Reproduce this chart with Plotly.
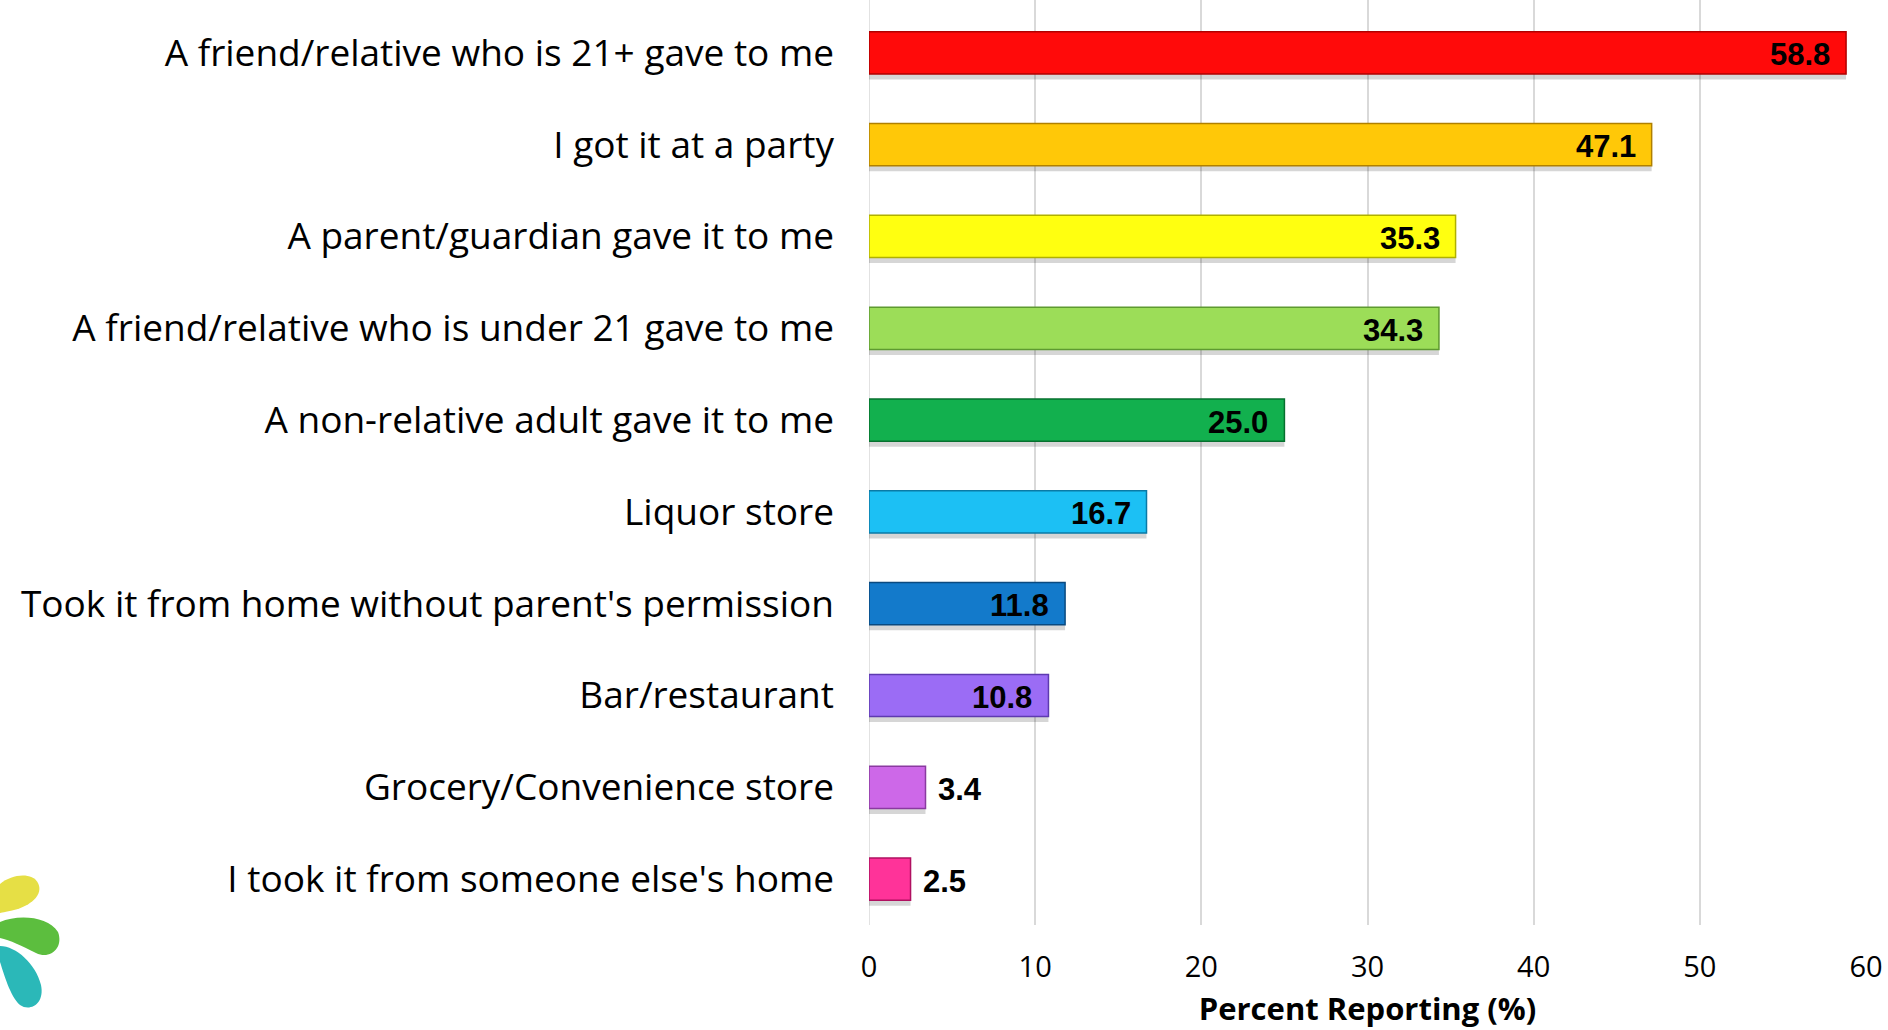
import plotly.graph_objects as go

# Sources of alcohol, percent of respondents reporting each
categories = [
    "A friend/relative who is 21+ gave to me",
    "I got it at a party",
    "A parent/guardian gave it to me",
    "A friend/relative who is under 21 gave to me",
    "A non-relative adult gave it to me",
    "Liquor store",
    "Took it from home without parent's permission",
    "Bar/restaurant",
    "Grocery/Convenience store",
    "I took it from someone else's home",
]
values = [58.8, 47.1, 35.3, 34.3, 25.0, 16.7, 11.8, 10.8, 3.4, 2.5]
bar_colors = ["#FF0A0A", "#FFC808", "#FFFF10", "#9CDD58", "#12B04E",
              "#1CC0F4", "#137ACB", "#9B6CF5", "#CD68E8", "#FF3399"]
edge_colors = ["#B00000", "#B08000", "#B0B000", "#5E9A30", "#06702E",
               "#0A7AA6", "#0A4A80", "#5E3AB0", "#8A3AA0", "#B01060"]
x_ticks = [0, 10, 20, 30, 40, 50, 60]
x_title = "Percent Reporting (%)"

W, H = 1888, 1030
L, R, T, B = 869, 22, 0, 105
BAR_W = 0.46

fig = go.Figure()
# soft drop shadow sitting just below each bar
fig.add_trace(go.Bar(
    x=values, y=categories, orientation="h", width=BAR_W, offset=-BAR_W / 2 + 0.06,
    marker=dict(color="rgba(0,0,0,0.16)", line=dict(width=0)),
    hoverinfo="skip",
))
fig.add_trace(go.Bar(
    x=values, y=categories, orientation="h", width=BAR_W, offset=-BAR_W / 2,
    marker=dict(color=bar_colors, line=dict(color=edge_colors, width=1.5)),
    hoverinfo="x+y",
))

# value labels: inside the bar end when there is room, otherwise just past it
for cat, v in zip(categories, values):
    inside = v >= 8
    fig.add_annotation(
        x=v, y=cat, xref="x", yref="y", text=f"<b>{v:.1f}</b>",
        showarrow=False, xanchor="right" if inside else "left",
        xshift=-14 if inside else 10, yshift=-2,
        font=dict(family="Liberation Sans Narrow, Liberation Sans, Arial", size=31, color="#000000"),
    )

# small petal logo in the lower-left corner
pw = W - L - R
ph = H - T - B


def px(x):
    return (x - L) / pw


def py(y):
    return (H - B - y) / ph


def petal(points):
    (x0, y0), rest = points[0], points[1:]
    d = f"M {px(x0)},{py(y0)} "
    for i in range(0, len(rest), 3):
        (a, b), (c, e), (f, g) = rest[i:i + 3]
        d += f"C {px(a)},{py(b)} {px(c)},{py(e)} {px(f)},{py(g)} "
    return d + "Z"


petals = [
    ("#E6DF45", [(0, 884), (12, 874), (32, 872), (38, 883), (44, 895), (30, 906), (14, 910), (6, 912), (0, 913), (0, 913)]),
    ("#5CBE3E", [(0, 922), (18, 914), (48, 916), (58, 932), (64, 948), (50, 960), (36, 953), (22, 946), (10, 940), (0, 938)]),
    ("#2BB8B8", [(0, 946), (16, 946), (36, 964), (41, 985), (45, 1004), (30, 1012), (20, 1005), (10, 996), (4, 974), (0, 962)]),
]
for color, pts in petals:
    fig.add_shape(type="path", xref="paper", yref="paper", path=petal(pts),
                  fillcolor=color, line=dict(width=0), layer="above")

fig.update_layout(
    width=W, height=H,
    margin=dict(l=L, r=R, t=T, b=B),
    paper_bgcolor="white", plot_bgcolor="white",
    showlegend=False,
    barmode="overlay",
    xaxis=dict(
        range=[0, 60], tickvals=x_ticks, showgrid=True, gridcolor="#D9D9D9", gridwidth=1.5,
        zeroline=False, showline=False, ticks="", ticklabelstandoff=22,
        tickfont=dict(family="Open Sans", size=29, color="#000000"),
        title=dict(text=f"<b>{x_title}</b>", standoff=14,
                   font=dict(family="Open Sans", size=31, color="#000000")),
        fixedrange=True,
    ),
    yaxis=dict(
        categoryorder="array", categoryarray=categories,
        range=[9.5, -0.576], showgrid=False, zeroline=False, showline=False,
        ticks="", ticklabelstandoff=34,
        tickfont=dict(family="Open Sans", size=37, color="#000000"),
        fixedrange=True,
    ),
)
# left edge line at zero
fig.add_shape(type="line", xref="x", yref="paper", x0=0, x1=0, y0=0, y1=1,
              line=dict(color="#D9D9D9", width=1.5), layer="below")

fig.write_html("out.html")
